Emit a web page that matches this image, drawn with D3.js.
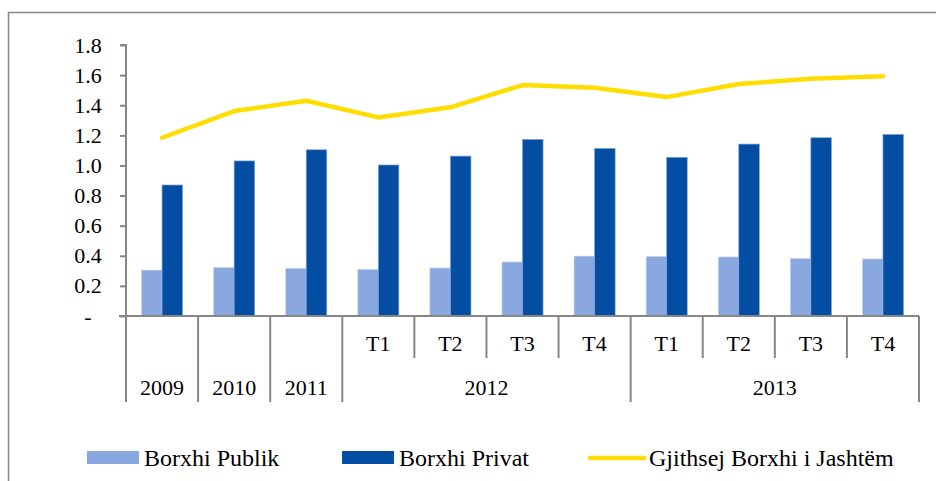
<!DOCTYPE html>
<html>
<head>
<meta charset="utf-8">
<script src="https://cdn.jsdelivr.net/npm/d3@7"></script>
<style>
  html, body { margin: 0; padding: 0; background: #fff; }
  svg { display: block; }
  svg text { font-family: "Liberation Serif", "Times New Roman", Times, "DejaVu Serif", serif; }
</style>
</head>
<body>
<svg id="chart" width="936" height="481"></svg>
<script>
const quarters = ["", "", "", "T1", "T2", "T3", "T4", "T1", "T2", "T3", "T4"];
const years = [
  { label: "2009", from: 0, to: 1 },
  { label: "2010", from: 1, to: 2 },
  { label: "2011", from: 2, to: 3 },
  { label: "2012", from: 3, to: 7 },
  { label: "2013", from: 7, to: 11 }
];
const borxhiPublik = [0.305, 0.323, 0.317, 0.31, 0.319, 0.359, 0.398, 0.396, 0.392, 0.383, 0.379];
const borxhiPrivat = [0.87, 1.03, 1.104, 1.003, 1.062, 1.173, 1.113, 1.054, 1.142, 1.184, 1.206];
const gjithsej = [1.184, 1.361, 1.43, 1.319, 1.386, 1.534, 1.516, 1.454, 1.541, 1.576, 1.592];
const yTicks = [0, 0.2, 0.4, 0.6, 0.8, 1.0, 1.2, 1.4, 1.6, 1.8];

const colPublik = "#8AA8E0",
  colPrivat = "#034EA2",
  colLine = "#FFDD00",
  axisColor = "#868686",
  fontSize = 22;

const svg = d3.select("#chart"),
  margin = { top: 45, left: 126, right: 17 },
  plotBottom = 316,
  width = +svg.attr("width"),
  plotRight = width - margin.right;

// outer frame (runs off the right and bottom of the picture)
svg.append("rect")
  .attr("x", 8.5).attr("y", 12.5)
  .attr("width", 940).attr("height", 480)
  .attr("fill", "none")
  .attr("stroke", axisColor)
  .attr("stroke-width", 1.5);

const idx = d3.range(quarters.length);
const x = d3.scaleBand().domain(idx).range([margin.left, plotRight]);
const y = d3.scaleLinear().domain([0, 1.8]).range([plotBottom, margin.top]);
const barW = x.bandwidth() * 0.285;

// y axis
const yAxis = svg.append("g")
  .attr("transform", "translate(" + margin.left + ",0)")
  .call(d3.axisLeft(y).tickValues(yTicks).tickSize(6).tickPadding(20)
    .tickFormat(d => d === 0 ? "-" : d3.format(".1f")(d)));
yAxis.attr("font-family", null).attr("font-size", null);
yAxis.select(".domain").attr("stroke", axisColor).attr("stroke-width", 2).attr("d", "M-6," + y(1.8) + "H0V" + plotBottom);
yAxis.selectAll(".tick line").attr("stroke", axisColor).attr("stroke-width", 2);
yAxis.selectAll(".tick text")
  .attr("fill", "#000")
  .style("font-size", fontSize + "px")
  .attr("text-anchor", "middle")
  .attr("x", -38);

// bars
svg.append("g").selectAll("rect")
  .data(borxhiPublik)
  .enter().append("rect")
  .attr("x", (d, i) => x(i) + x.bandwidth() / 2 - barW)
  .attr("y", d => y(d))
  .attr("width", barW)
  .attr("height", d => plotBottom - y(d))
  .attr("fill", colPublik)
  .attr("stroke", "#c8d6f0")
  .attr("stroke-width", 0.7);

svg.append("g").selectAll("rect")
  .data(borxhiPrivat)
  .enter().append("rect")
  .attr("x", (d, i) => x(i) + x.bandwidth() / 2)
  .attr("y", d => y(d))
  .attr("width", barW)
  .attr("height", d => plotBottom - y(d))
  .attr("fill", colPrivat)
  .attr("stroke", "#7fa3d8")
  .attr("stroke-width", 0.7);

// line
const line = d3.line()
  .x((d, i) => x(i) + x.bandwidth() / 2)
  .y(d => y(d));
svg.append("path")
  .datum(gjithsej)
  .attr("d", line)
  .attr("fill", "none")
  .attr("stroke", colLine)
  .attr("stroke-width", 4.5)
  .attr("stroke-linecap", "round")
  .attr("stroke-linejoin", "round");

// category axis
const cat = svg.append("g");
const row1 = 358, row2 = 402;
cat.append("line")
  .attr("x1", margin.left - 7).attr("x2", plotRight)
  .attr("y1", plotBottom).attr("y2", plotBottom)
  .attr("stroke", axisColor).attr("stroke-width", 2);

const yearEdges = new Set();
years.forEach(yr => { yearEdges.add(yr.from); yearEdges.add(yr.to); });
d3.range(quarters.length + 1).forEach(i => {
  const xp = i < quarters.length ? x(i) : plotRight;
  cat.append("line")
    .attr("x1", xp).attr("x2", xp)
    .attr("y1", plotBottom).attr("y2", yearEdges.has(i) ? row2 : row1)
    .attr("stroke", axisColor).attr("stroke-width", 2);
});

cat.selectAll("text.q")
  .data(quarters)
  .enter().append("text")
  .attr("class", "q")
  .attr("x", (d, i) => x(i) + x.bandwidth() / 2)
  .attr("y", 351)
  .attr("text-anchor", "middle")
  .style("font-size", fontSize + "px")
  .text(d => d);

cat.selectAll("text.yr")
  .data(years)
  .enter().append("text")
  .attr("class", "yr")
  .attr("x", d => (x(d.from) + (d.to < quarters.length ? x(d.to) : plotRight)) / 2)
  .attr("y", 395)
  .attr("text-anchor", "middle")
  .style("font-size", fontSize + "px")
  .text(d => d.label);

// legend
const legend = svg.append("g");
const legY = 458;
const legItems = [
  { label: "Borxhi Publik", type: "rect", color: colPublik, x: 87 },
  { label: "Borxhi Privat", type: "rect", color: colPrivat, x: 342 },
  { label: "Gjithsej Borxhi i Jashtëm", type: "line", color: colLine, x: 590 }
];
legItems.forEach(it => {
  if (it.type === "rect") {
    legend.append("rect")
      .attr("x", it.x).attr("y", legY - 7)
      .attr("width", 52).attr("height", 13)
      .attr("fill", it.color);
  } else {
    legend.append("line")
      .attr("x1", it.x).attr("x2", it.x + 54)
      .attr("y1", legY).attr("y2", legY)
      .attr("stroke", it.color).attr("stroke-width", 4.5)
      .attr("stroke-linecap", "round");
  }
  legend.append("text")
    .attr("x", it.x + (it.type === "rect" ? 57 : 59))
    .attr("y", legY + 8)
    .style("font-size", "24px")
    .text(it.label);
});
</script>
</body>
</html>
